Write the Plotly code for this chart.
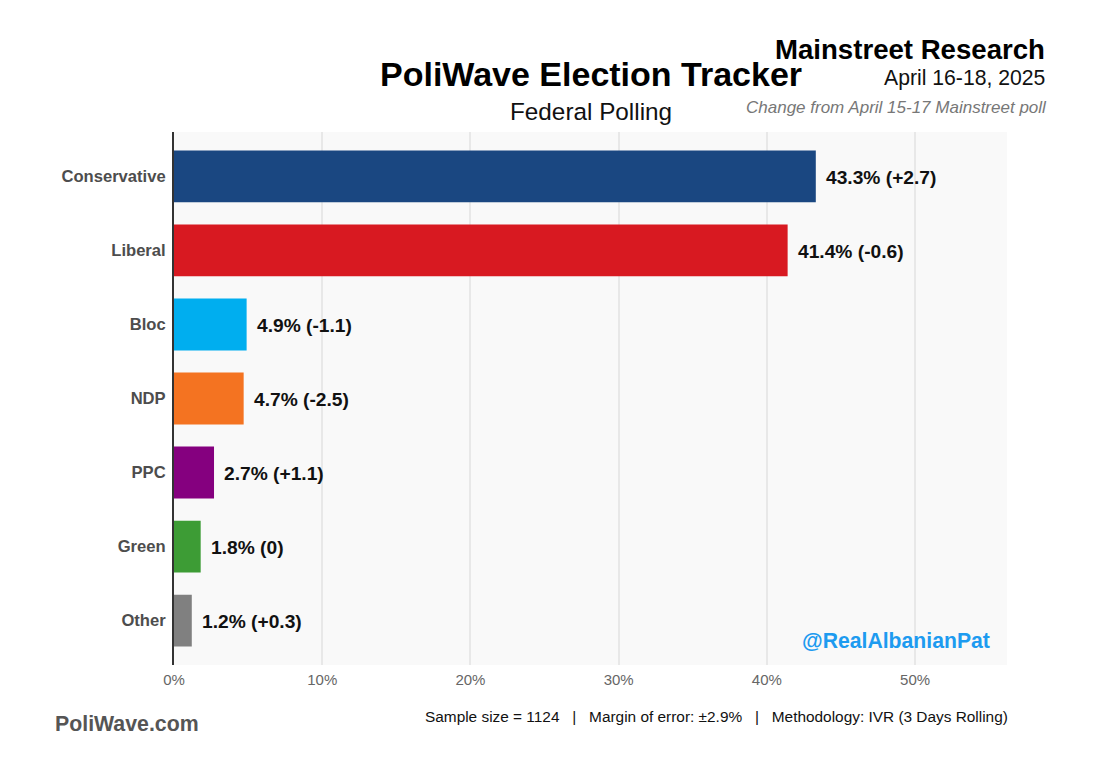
import plotly.graph_objects as go

parties = ["Conservative", "Liberal", "Bloc", "NDP", "PPC", "Green", "Other"]
support = [43.3, 41.4, 4.9, 4.7, 2.7, 1.8, 1.2]
change = ["+2.7", "-0.6", "-1.1", "-2.5", "+1.1", "0", "+0.3"]
colors = ["#1a4781", "#d81921", "#00aeef", "#f47321", "#85007f", "#3d9c35", "#808080"]
ticks = [0, 10, 20, 30, 40, 50]
tick_labels = ["0%", "10%", "20%", "30%", "40%", "50%"]

FONT = "Liberation Sans"
W, H = 1100, 770
L, R, T, B = 174, 1007, 132, 665

fig = go.Figure(go.Bar(
    x=support, y=parties, orientation="h", width=0.7,
    marker=dict(color=colors, line=dict(width=0)),
    hoverinfo="skip",
))

for party, s, c in zip(parties, support, change):
    fig.add_annotation(
        text=f"<b>{s}% ({c})</b>", x=s, y=party, xref="x", yref="y",
        xanchor="left", yanchor="middle", xshift=8, yshift=-1, showarrow=False,
        font=dict(family=FONT, size=19.2, color="#111111"),
    )

fig.update_layout(
    width=W, height=H,
    margin=dict(l=L, r=W - R, t=T, b=H - B),
    paper_bgcolor="#ffffff", plot_bgcolor="#f9f9f9",
    showlegend=False, font=dict(family=FONT),
    xaxis=dict(range=[0, 56.2], tickvals=ticks, ticktext=tick_labels,
               showgrid=True, gridcolor="#e8e8e8", gridwidth=1.7, zeroline=False,
               ticks="", tickfont=dict(size=15, color="#666666"), ticklabelstandoff=4),
    yaxis=dict(range=[6.6, -0.6], type="category", showgrid=False, zeroline=False,
               showline=True, linecolor="#333333", linewidth=2, ticks="", layer="below traces",
               tickfont=dict(size=16.6, color="#4d4d4d", weight="bold"), ticklabelstandoff=3),
)


# paper coordinates are relative to the plot area, so map pixel positions through it
def px_note(text, x, y, size, **kw):
    fig.add_annotation(
        text=text, x=(x - L) / (R - L), y=(B - y) / (B - T), xref="paper", yref="paper",
        xanchor=kw.get("anchor", "left"), yanchor="middle", showarrow=False,
        font=dict(family=FONT, size=size, color=kw.get("color", "#000000"),
                  style=kw.get("style", "normal")),
    )


px_note("<b>PoliWave Election Tracker</b>", 591, 74, 34, anchor="center")
px_note("Federal Polling", 591, 111, 24.3, anchor="center", color="#111111")
px_note("<b>Mainstreet Research</b>", 1047, 49, 27.6, anchor="right")
px_note("April 16-18, 2025", 1047, 78, 21.2, anchor="right", color="#111111")
px_note("Change from April 15-17 Mainstreet poll", 1049, 107, 17, anchor="right",
        color="#777777", style="italic")
px_note("<b>@RealAlbanianPat</b>", 992, 640, 21.2, anchor="right", color="#1d9bf0")
px_note("<b>PoliWave.com</b>", 53, 724, 21.3, color="#555555")
px_note("Sample size = 1124&nbsp;&nbsp;&nbsp;|&nbsp;&nbsp;&nbsp;Margin of error: ±2.9%&nbsp;&nbsp;&nbsp;|&nbsp;&nbsp;&nbsp;Methodology: IVR (3 Days Rolling)",
        1010, 716, 15.4, anchor="right", color="#111111")

fig.write_html("out.html", config=dict(displayModeBar=False),
               post_script="document.body.style.margin='0';")
